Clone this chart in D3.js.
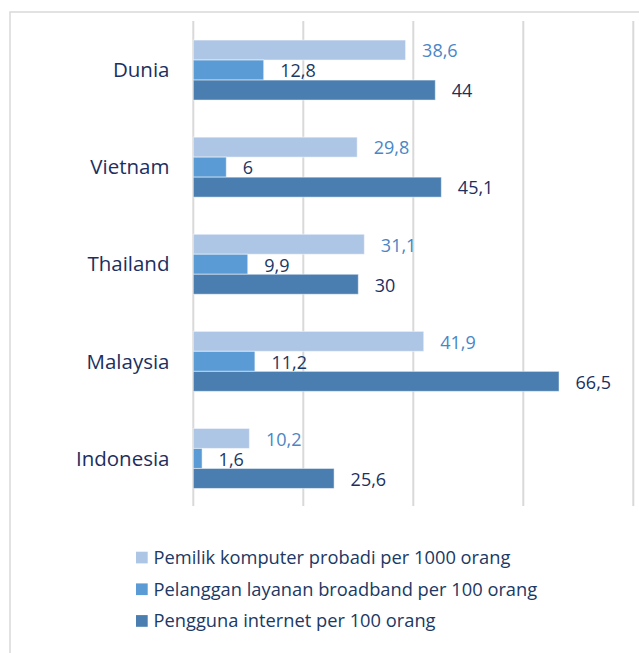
<!DOCTYPE html>
<html>
<head>
<meta charset="utf-8">
<script src="https://cdn.jsdelivr.net/npm/d3@7"></script>
<style>
  html, body { margin: 0; padding: 0; background: #fff; }
  svg { display: block; font-family: "Open Sans", sans-serif; }
</style>
</head>
<body>
<svg id="chart" width="639" height="653"></svg>
<script>
// negara / kategori dari atas ke bawah
var categories = ["Dunia", "Vietnam", "Thailand", "Malaysia", "Indonesia"];
var seriesNames = [
    "Pemilik komputer probadi per 1000 orang",
    "Pelanggan layanan broadband per 100 orang",
    "Pengguna internet per 100 orang"
];
var pcOwners = [38.6, 29.8, 31.1, 41.9, 10.2];
var broadband = [12.8, 6, 9.9, 11.2, 1.6];
var internetUsers = [44, 45.1, 30, 66.5, 25.6];
var xTicks = [0, 20, 40, 60, 80];

var colors = ["#aec6e6", "#5b9bd5", "#4a7eb0"];
var labelColors = ["#4a86c6", "#203864", "#1c2f5e"];

var series = [pcOwners, broadband, internetUsers];

var svg = d3.select("#chart");

// bingkai chart (terpotong di kanan/bawah)
svg.append("rect")
    .attr("x", 10)
    .attr("y", 12)
    .attr("width", 700)
    .attr("height", 700)
    .attr("fill", "none")
    .attr("stroke", "#d9d9d9")
    .attr("stroke-width", 1.5);

var x = d3.scaleLinear().domain([0, 80]).range([193.3, 633.3]);
var y = d3.scaleBand().domain(categories).range([21.5, 507])
    .paddingInner(0.382).paddingOuter(0.191);
var ySub = d3.scaleBand().domain(d3.range(series.length)).range([0, y.bandwidth()]);

var gridTop = 21, gridBottom = 506;

// garis grid
svg.append("g").selectAll("line")
    .data(xTicks)
    .enter().append("line")
    .attr("x1", function(d) { return x(d); })
    .attr("x2", function(d) { return x(d); })
    .attr("y1", gridTop)
    .attr("y2", gridBottom)
    .attr("stroke", "#d9d9d9")
    .attr("stroke-width", 2);

// batang
var groups = svg.append("g").selectAll("g")
    .data(categories)
    .enter().append("g")
    .attr("transform", function(d) { return "translate(0," + y(d) + ")"; });

groups.each(function(cat, ci) {
    var g = d3.select(this);
    series.forEach(function(vals, si) {
        g.append("rect")
            .attr("x", x(0))
            .attr("y", ySub(si))
            .attr("width", x(vals[ci]) - x(0))
            .attr("height", ySub.bandwidth())
            .attr("fill", colors[si])
            .attr("stroke", "rgba(255,255,255,0.5)")
            .attr("stroke-width", 1);

        g.append("text")
            .attr("x", x(vals[ci]) + 16.5)
            .attr("y", ySub(si) + ySub.bandwidth() / 2 + 1)
            .attr("dy", "0.35em")
            .attr("font-size", "18px")
            .attr("fill", labelColors[si])
            .text(String(vals[ci]).replace(".", ","));
    });
});

// label kategori
svg.append("g").selectAll("text")
    .data(categories)
    .enter().append("text")
    .attr("x", 169.5)
    .attr("y", function(d) { return y(d) + y.bandwidth() / 2; })
    .attr("dy", "0.35em")
    .attr("text-anchor", "end")
    .attr("font-size", "20.5px")
    .attr("fill", "#1c2f5e")
    .text(function(d) { return d; });

// legenda
var legend = svg.append("g").selectAll("g")
    .data(seriesNames)
    .enter().append("g")
    .attr("transform", function(d, i) { return "translate(136," + (557.5 + i * 31.7) + ")"; });

legend.append("rect")
    .attr("x", 0)
    .attr("y", -5.8)
    .attr("width", 11.7)
    .attr("height", 11.7)
    .attr("fill", function(d, i) { return colors[i]; });

legend.append("text")
    .attr("x", 17.5)
    .attr("y", 0)
    .attr("dy", "0.35em")
    .attr("font-size", "18.3px")
    .attr("fill", "#203864")
    .text(function(d) { return d; });
</script>
</body>
</html>
